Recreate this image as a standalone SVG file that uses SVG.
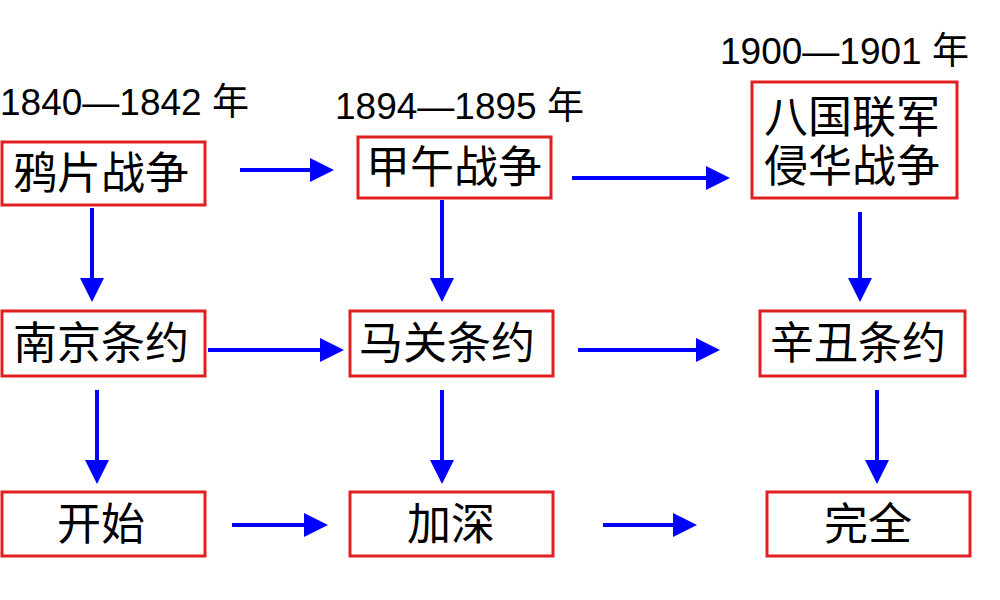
<svg xmlns="http://www.w3.org/2000/svg" width="1000" height="600" viewBox="0 0 1000 600">
<defs>
<marker id="ah" markerWidth="6" markerHeight="6" refX="5" refY="3" orient="auto" markerUnits="strokeWidth"><path d="M0,0 L6,3 L0,6 z" fill="#0000ff"/></marker>
<style>
.b{fill:#fff;stroke:#e02020;stroke-width:3}
.t{font-family:"Liberation Sans","Noto Sans CJK SC",sans-serif;font-size:44px;fill:#000;text-anchor:middle}
.y{font-family:"Liberation Sans","Noto Sans CJK SC",sans-serif;font-size:37px;fill:#000}
.a{stroke:#0000ff;stroke-width:4;marker-end:url(#ah);fill:none}
</style>
</defs>
<rect width="1000" height="600" fill="#fff"/>
<text class="y" x="0" y="115">1840—1842 年</text>
<text class="y" x="335" y="119">1894—1895 年</text>
<text class="y" x="720" y="64">1900—1901 年</text>
<g id="n1"><rect class="b" x="2" y="142" width="203" height="63"/><text class="t" x="101" y="189">鸦片战争</text></g>
<g id="n2"><rect class="b" x="358" y="137" width="193" height="61"/><text class="t" x="454" y="183">甲午战争</text></g>
<g id="n3"><rect class="b" x="752" y="82" width="205" height="116"/><text class="t" x="852" y="133">八国联军</text><text class="t" x="852" y="182">侵华战争</text></g>
<g id="n4"><rect class="b" x="2" y="311" width="203" height="65"/><text class="t" x="101" y="359">南京条约</text></g>
<g id="n5"><rect class="b" x="350" y="311" width="203" height="65"/><text class="t" x="447" y="359">马关条约</text></g>
<g id="n6"><rect class="b" x="760" y="311" width="205" height="65"/><text class="t" x="858" y="359">辛丑条约</text></g>
<g id="n7"><rect class="b" x="2" y="492" width="203" height="64"/><text class="t" x="101" y="540">开始</text></g>
<g id="n8"><rect class="b" x="350" y="492" width="203" height="64"/><text class="t" x="451" y="540">加深</text></g>
<g id="n9"><rect class="b" x="767" y="492" width="203" height="64"/><text class="t" x="868" y="540">完全</text></g>
<g id="connectors">
<line class="a" x1="240" y1="170" x2="330" y2="170"/>
<line class="a" x1="572" y1="178" x2="726" y2="178"/>
<line class="a" x1="208" y1="350" x2="340" y2="350"/>
<line class="a" x1="578" y1="350" x2="716" y2="350"/>
<line class="a" x1="232" y1="525" x2="324" y2="525"/>
<line class="a" x1="603" y1="525" x2="693" y2="525"/>
<line class="a" x1="92" y1="208" x2="92" y2="298"/>
<line class="a" x1="442" y1="200" x2="442" y2="298"/>
<line class="a" x1="860" y1="212" x2="860" y2="298"/>
<line class="a" x1="97" y1="390" x2="97" y2="480"/>
<line class="a" x1="442" y1="390" x2="442" y2="480"/>
<line class="a" x1="877" y1="390" x2="877" y2="480"/>
</g>
</svg>
